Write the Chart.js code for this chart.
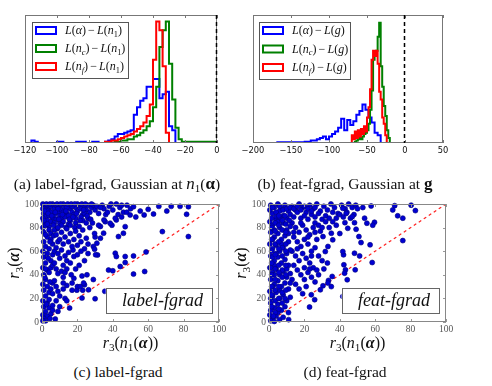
<!DOCTYPE html>
<html>
<head>
<meta charset="utf-8">
<script src="https://cdn.jsdelivr.net/npm/chart.js@4.4.1/dist/chart.umd.min.js"></script>
<style>
  body { margin: 0; background: #fff; }
  #fig { position: relative; width: 492px; height: 386px; overflow: hidden; font-family: "Liberation Serif", serif; color: #111; }
  canvas { position: absolute; }
  .cap { position: absolute; white-space: nowrap; font-size: 15.5px; transform: translate(-50%, -50%); }
  .cap i, .cap b.m { font-size: 17px; }
  .cap sub { font-size: 11px; vertical-align: -3px; line-height: 0; }
</style>
</head>
<body>
<div id="fig">
  <canvas id="histA" width="230" height="165" style="left:0;top:0"></canvas>
  <canvas id="histB" width="222" height="165" style="left:236px;top:0"></canvas>
  <canvas id="scatC" width="232" height="170" style="left:0;top:190px"></canvas>
  <canvas id="scatD" width="232" height="170" style="left:227px;top:190px"></canvas>
  <div class="cap" style="left:117px;top:184px">(a) label-fgrad, Gaussian at <i>n</i><sub>1</sub>(<b class="m">α</b>)</div>
  <div class="cap" style="left:345px;top:184px">(b) feat-fgrad, Gaussian at <b class="m">g</b></div>
  <div class="cap" style="left:118px;top:372px">(c) label-fgrad</div>
  <div class="cap" style="left:345px;top:372px">(d) feat-fgrad</div>
</div>
<script>
// ---- histogram (a): bin edges and counts (relative height, 100 = top of axes)
const edgesA = [-120,-118,-116,-114,-112,-110,-108,-106,-104,-102,-100,-98,-96,-94,-92,-90,-88,-86,-84,-82,
  -80,-78,-76,-74,-72,-70,-68,-66,-64,-62,-60,-58,-56,-54,-52,-50,-48,-46,-44,-42,
  -40,-38,-36,-34,-32,-30,-28,-26,-24,-22,-20,-18,-16,-14,-12,-10,-8,-6,-4,-2,0];
const blueA = [0,0,2,1,0,0,0,0,0,0, 1,1,0,0,0,0,1,1,1,0, 0,1,1,0,0,1,2,3,5,7,
  7,8,9,10,22,28,33,35,44,44, 50,50,35,38,40,13,10,0,0,0, 0,0,0,0,0,0,0,0,0,0];
const greenA = [0,0,0,0,0,0,0,0,0,0, 0,0,0,0,0,0,0,0,0,0, 0,0,0,0,0,0,0,0,1,1,
  2,2,3,3,5,6,8,10,13,17, 28,44,75,88,95,62,34,12,3,1, 1,1,1,1,1,1,1,1,1,1];
const redA = [0,0,0,0,0,0,0,0,0,0, 0,0,0,0,0,0,0,0,0,0, 0,0,0,0,0,1,1,2,2,3,
  4,5,6,7,9,11,13,16,21,30, 65,95,88,60,8,0,0,0,0,0, 0,0,0,0,0,0,0,0,0,0];
const labelsA = ['L(α)−L(n_1)', 'L(n_c)−L(n_1)', 'L(n_f)−L(n_1)'];
const ticksA = [-120, -100, -80, -60, -40, -20, 0];

// ---- histogram (b)
const edgesBlueB = [-168,-164,-160,-156,-152,-148,-144,-140,-136,-132,-128,-124,-120,-116,-112,-108,-104,-100,
  -96,-92,-88,-84,-80,-76,-72,-68,-64,-60,-56,-52,-48,-44,-40,-36,-32];
const blueB = [0.5,0.5,0.5,0.5,0.5,0.5,0.5,0.5,0.5,1, 1,2,2,3,4,5,3,5,7,9,
  12,19,10,18,14,17,22,25,30,26, 20,16,8,6];
const edgesB = [-74,-72,-70,-68,-66,-64,-62,-60,-58,-56,-54,-52,-50,-48,-46,-44,-42,-40,-38,-36,
  -34,-32,-30,-28,-26,-24,-22,-20];
const greenB = [0,0,0,0,1,2,3,4,3,5, 7,8,10,15,26,41,65,70,72,83, 94,60,44,29,21,10,4];
const redB = [0,0,6,3,9,4,10,5,11,7, 13,9,20,28,42,65,72,68,72,62, 40,34,20,15,6,0,0];
const labelsB = ['L(α)−L(g)', 'L(n_c)−L(g)', 'L(n_f)−L(g)'];
const ticksB = [-200, -150, -100, -50, 0, 50];

// ---- scatter (c): [r3(n1(alpha)), r3(alpha)]
const scatterC = [
  [1,99],[2,97],[3,99],[4,95],[5,98],[6,100],[7,96],[8,99],[9,93],[10,98],[11,95],[12,100],[13,97],[14,92],
  [15,99],[16,96],[17,93],[18,99],[19,97],[20,94],[21,99],[22,96],[23,91],[24,98],[25,95],[26,99],[27,93],[28,97],
  [1,92],[2,89],[3,94],[4,90],[5,93],[6,88],[7,91],[8,87],[9,96],[10,90],[11,88],[12,93],[13,89],[14,97],
  [15,90],[16,86],[17,98],[18,91],[19,88],[20,100],[22,89],[24,92],[26,88],
  [0.5,96],[0.5,88],[3,86],[5,85],[7,84],[10,84],[12,85],[15,83],[19,84],[23,86],[29,99],[30,95],[31,98],
  [32,92],[34,99],[35,96],[36,91],[38,98],[40,95],[42,100],[44,97],[46,93],
  [0.5,100],[2.5,100],[4.5,100],[8.5,100],[10.5,100],[14.5,100],[16.5,100],[18.5,100],[22.5,100],[24.5,100],
  [28,100],[1.5,94],[3.5,92],[5.5,90],[7.5,93],[9.5,87],[11.5,91],[13.5,94],[15.5,87],[17.5,89],[19.5,92],
  [21.5,86],[23.5,95],[25.5,90],[27.5,87],[1.5,84],[4,81],[6.5,82],[8.5,79],[11,82],[13.5,80],[16,82],
  [18.5,80],[21,81],[25,84],[28.5,84],[37,93],[39,100],[43,91],[33,97],[45,99],
  [48,99],[50,96],[53,89],[55.5,94],[57.7,90.7],[60,95.5],[63,91.5],[66,98],[70.5,94],[73,98],[78,98],
  [82.7,97.7],[81.7,91.3],[68,76.6],[82.7,72.4],[45,89],[47.9,93],[49.8,90.7],[51.7,97.7],[47,80.8],
  [46,75.2],[43.2,72.4],[42,86.5],[39.5,82],[35.7,85],[38.5,83.7],[41.4,88],[33,81],[35,86.5],[32,82],
  [34.8,75.3],[30,72],[29,64],[31.4,56.8],[41.4,58.3],[44.2,47],[47,55.5],[37.6,44],[58.8,59.4],[58,42.8],
  [51.7,56],[51.7,40.6],[47,50.4],[42,55.5],[40,43.4],[35.5,26],[29.7,75],[33,71],[31,66.8],[30.3,57],
  [29.7,61.7],[29,36],[30,19.7],[22.6,20.3],[23,27],[24,31.5],[22.6,39],[25.4,40],[19.7,27],[17,33],
  [16.5,40],[15.6,11.8],[18,55.5],[17.5,61],[7.5,2.5],
  [0.5,80],[1,76],[2,82],[3,72],[1,68],[4,78],[2,64],[5,70],[0.5,60],[3,58],[1,55],[4,62],[2,50],[5,52],
  [0.5,46],[3,44],[1,40],[4,42],[2,36],[0.5,32],[3,30],[1,27],[4,25],[2,22],[5,28],[0.5,18],[3,16],[1,13],
  [4,12],[2,9],[0.5,6],[3,5],[1,3],[2,1],[0.5,1],[5,7],[6,10],[4,19],[6,33],[5,46],[6,57],[6,66],[5,75],
  [2,45],[1,86],[3,83],[2,74],[4.5,68],[6.5,73],[9,68],[7,60],[3.5,54],[6,48],[1.5,38],[4.5,34],[6,24],
  [2.5,15],[4.5,3],[6,14],
  [7,78],[8,74],[9,80],[10,70],[11,76],[12,66],[13,72],[14,79],[15,68],[16,75],[17,64],[18,70],[19,77],
  [20,65],[21,73],[22,68],[23,78],[24,62],[25,71],[26,66],[27,80],[8,63],[9,58],[10,54],[11,61],[12,48],
  [13,56],[14,52],[15,59],[16,50],[20,57],[22,60],[24,52],[26,58],[7,50],[8,45],[9,41],[11,43],[12,38],
  [13,42],[19,45],[21,48],[14,45],
  [7,35],[8,30],[9,26],[10,22],[8,18],[10,13],[9,9],[12,28],[13,20],[14,18],[14,31],[17,27],[18,37],
  [20,30],[21.6,30],[23.5,33],[26.3,27.3],[12,33]
];

// ---- scatter (d)
const scatterD = [
  [1,99],[3,97],[5,100],[7,96],[9,99],[11,94],[13,98],[15,95],[17,100],[19,97],[21,93],[23,99],[25,96],
  [27,100],[29,94],[31,98],[33,95],[35,100],[37,97],[39,92],[41,99],[43,96],[45,100],[47,97],[49,99],
  [2,92],[4,89],[6,94],[8,90],[10,88],[12,91],[14,89],[16,93],[18,88],[20,90],[22,87],[24,91],[26,89],
  [28,92],[30,87],[32,90],[34,88],[36,93],[38,88],[40,91],[42,89],[44,93],[46,88],[48,91],[50,96],
  [43.6,92],[41.7,96.3],[47,89.3],[48.3,84.2],[49.2,78.6],[42.9,84.2],[44.5,79.4],[36,85],[35.2,75.2],
  [36,69.6],[30.5,72.4],[33.3,64],[31.8,59.7],
  [80.3,99],[71,98.6],[75.6,88],[72.7,90],[82.7,94.4],[75.6,69],[69.9,95],[59.6,84.5],[58.6,82],[55.3,83.7],
  [57.1,65.4],[58.3,50.4],[52,67.3],[50.8,72.4],[51.2,56],[48.3,58.3],[48.7,44.2],[44.2,35.8],[42.3,48.5],
  [43.2,44.2],[42.7,41.4],[42.1,56.9],[41.7,59.7],[41.7,21.7],[35.7,38.6],[35.2,30],[33.6,35.2],[33.3,33],
  [30.5,30.7],[29,27.3],[23.9,23.1],[22.9,12.7],[25.8,18.9],[11.1,2],[57.7,98.3],[53,97],[54,88],
  [13,84],[15,80],[17,76],[19,82],[21,78],[23,74],[25,80],[27,70],[29,77],[14,72],[16,68],[18,64],[20,70],
  [22,66],[24,60],[26,63],[28,56],[30,52],[13,60],[15,56],[17,52],[19,58],[21,54],[23,50],[25,46],[27,44],
  [14,48],[16,44],[18,40],[20,36],[22,42],[24,38],[26,34],[28,40],[13,36],[15,32],[17,28],[19,24],[21,30],
  [23,45],[31,45],[33,50],[32,85],[34,80],[38,82],[40,75],[26,84],[28,82],
  [14,76],[18,84],[22,72],[26,76],[30,80],[16,62],[20,46],[24,56],
  [0.5,85],[2,82],[4,86],[6,80],[8,84],[10,78],[12,81],[1,76],[3,72],[5,75],[7,70],[9,73],[11,68],[0.5,66],
  [2,62],[4,65],[6,60],[8,63],[10,58],[12,61],[1,56],[3,52],[5,55],[7,50],[9,53],[11,48],[0.5,46],[2,42],
  [4,45],[6,40],[8,43],[10,38],[12,41],[1,36],[3,32],[5,35],[7,30],[9,33],[11,28],[0.5,26],[2,22],[4,25],
  [6,20],[8,23],[10,18],[12,21],[1,16],[3,12],[5,15],[7,10],[9,13],[11,8],[0.5,6],[2,3],[4,5],[6,2],[8,4],
  [1,1],[3,0.5],[5,8],[1,10],[2,30],[3,48],[4,58],[2,70],[3,78],[6,88],[9,90],[7,66],[10,45],[6,27],[9,20],
  [1,46],[2,55],[5,85],[11,75],[12,33],[3,40],[1,20],
  [0.5,95],[2,97],[4,93],[6,98],[8,95],[10,96],[12,97],[14,96],[16,98],[18,95],[20,98],[22,96],[24,94],[26,97],
  [1.5,88],[3.5,84],[5.5,90],[7.5,86],[9.5,83],[11.5,86],[1.5,80],[3.5,77],[5.5,82],[7.5,78],[9.5,76],
  [1.5,70],[3.5,66],[5.5,68],[7.5,63],[9.5,66],[1.5,60],[3.5,57],[5.5,62],[7.5,56],[9.5,60],[1.5,50],
  [3.5,45],[5.5,48],[7.5,44],[9.5,48],[1.5,40],[3.5,36],[5.5,42],[7.5,38],[9.5,40],[1.5,30],[3.5,27],
  [5.5,30],[7.5,25],[9.5,27],[1.5,23],[3.5,18],[5.5,20],[7.5,16],[1.5,13],[3.5,8],[5.5,11],[2.5,5]
];
const diagonal = [[0, 0], [100, 100]];
const ticksScatter = [0, 20, 40, 60, 80, 100];

const SERIF = '"Liberation Serif", "Times New Roman", serif';

// draws a small math string: '_x' = subscript x, '*' toggles bold
function drawMath(ctx, str, x, y, size, align) {
  const runs = [];
  let bold = false;
  for (let i = 0; i < str.length; i++) {
    let c = str[i], sub = false;
    if (c === '*') { bold = !bold; continue; }
    if (c === '_') { sub = true; c = str[++i]; }
    const letter = /[A-Za-zα-ω]/.test(c);
    const s = sub ? size * 0.7 : size;
    runs.push({ c, sub, pad: c === '−' ? size * 0.18 : 0,
      font: (letter ? 'italic ' : '') + (bold ? 'bold ' : '') + s + 'px ' + SERIF });
  }
  let w = 0;
  runs.forEach(r => { ctx.font = r.font; r.w = ctx.measureText(r.c).width + 2 * r.pad; w += r.w; });
  let cx = align === 'center' ? x - w / 2 : align === 'right' ? x - w : x;
  ctx.textAlign = 'left';
  ctx.textBaseline = 'alphabetic';
  const base = y + size * 0.32;
  runs.forEach(r => {
    ctx.font = r.font;
    ctx.fillText(r.c, cx + r.pad, r.sub ? base + size * 0.22 : base);
    cx += r.w;
  });
}

function histPoints(edges, counts) {
  const pts = [{ x: edges[0], y: 0 }];
  counts.forEach((c, i) => pts.push({ x: edges[i], y: c }));
  pts.push({ x: edges[edges.length - 1], y: 0 });
  return pts;
}

// frame + inside tick marks + extras
const decor = {
  id: 'decor',
  afterDatasetsDraw(chart, args, o) {
    const { ctx, chartArea: a, scales } = chart;
    ctx.save();
    ctx.strokeStyle = o.tickColor;
    ctx.lineWidth = 1;
    scales.x.ticks.forEach(t => {
      const px = Math.round(scales.x.getPixelForValue(t.value)) + 0.5;
      ctx.beginPath();
      ctx.moveTo(px, a.bottom); ctx.lineTo(px, a.bottom - 3);
      ctx.moveTo(px, a.top); ctx.lineTo(px, a.top + 3);
      ctx.stroke();
    });
    if (scales.y.options.display) {
      scales.y.ticks.forEach(t => {
        const py = Math.round(scales.y.getPixelForValue(t.value)) + 0.5;
        ctx.beginPath();
        ctx.moveTo(a.left, py); ctx.lineTo(a.left + 3, py);
        ctx.moveTo(a.right, py); ctx.lineTo(a.right - 3, py);
        ctx.stroke();
      });
    }
    ctx.strokeStyle = o.frameColor;
    ctx.strokeRect(a.left + 0.5, a.top + 0.5, a.right - a.left - 1, a.bottom - a.top - 1);

    if (o.zeroLine) {
      const px = Math.round(scales.x.getPixelForValue(0)) - 0.5;
      ctx.strokeStyle = '#000';
      ctx.lineWidth = 1.5;
      ctx.setLineDash([4, 3]);
      ctx.beginPath(); ctx.moveTo(px, a.top); ctx.lineTo(px, a.bottom); ctx.stroke();
      ctx.setLineDash([]);
    }

    if (o.legend) {
      const L = o.legend;
      const bx = a.left + L.dx, by = a.top + L.dy;
      ctx.fillStyle = '#fff';
      ctx.fillRect(bx, by, L.w, L.h);
      ctx.strokeStyle = '#555';
      ctx.lineWidth = 1;
      ctx.strokeRect(bx + 0.5, by + 0.5, L.w, L.h);
      chart.data.datasets.forEach((ds, i) => {
        const ry = by + L.first + i * L.gap;
        ctx.strokeStyle = ds.borderColor;
        ctx.lineWidth = 2;
        ctx.strokeRect(bx + 4, ry - 3.5, 20, 7);
        ctx.fillStyle = '#111';
        drawMath(ctx, ds.label, bx + L.textX, ry, 12, 'left');
      });
    }

    if (o.tag) {
      const T = o.tag;
      const x0 = scales.x.getPixelForValue(T.x0), x1 = scales.x.getPixelForValue(T.x1);
      const y0 = scales.y.getPixelForValue(T.y1), y1 = scales.y.getPixelForValue(T.y0);
      ctx.fillStyle = '#fff';
      ctx.fillRect(x0, y0, x1 - x0, y1 - y0);
      ctx.strokeStyle = '#666';
      ctx.lineWidth = 1;
      ctx.strokeRect(Math.round(x0) + 0.5, Math.round(y0) + 0.5, Math.round(x1 - x0), Math.round(y1 - y0));
      ctx.fillStyle = '#111';
      ctx.font = 'italic 18px ' + SERIF;
      ctx.textAlign = 'right';
      ctx.textBaseline = 'middle';
      ctx.fillText(T.text, x1 - 9, (y0 + y1) / 2 + 1);
    }

    if (o.titles) {
      ctx.fillStyle = '#111';
      drawMath(ctx, o.titles.x, (a.left + a.right) / 2, a.bottom + 20.5, 16, 'center');
      ctx.save();
      ctx.translate(a.left - 28, (a.top + a.bottom) / 2);
      ctx.rotate(-Math.PI / 2);
      drawMath(ctx, o.titles.y, 0, 0, 16, 'center');
      ctx.restore();
    }
    ctx.restore();
  }
};

function fixed(size, horizontal) {
  return scale => { if (horizontal) scale.height = size; else scale.width = size; };
}

function histChart(id, series, labels, xTicks, pad, legend) {
  const colors = ['#0000ff', '#008000', '#ff0000'];
  return new Chart(document.getElementById(id), {
    type: 'line',
    data: {
      datasets: series.map((s, i) => ({
        label: labels[i],
        data: histPoints(s[0], s[1]),
        borderColor: colors[i],
        borderWidth: 2,
        stepped: 'before',
        pointRadius: 0,
        fill: false,
        order: 3 - i
      }))
    },
    options: {
      responsive: false,
      animation: false,
      devicePixelRatio: 1,
      layout: { padding: pad },
      plugins: {
        legend: { display: false },
        tooltip: { enabled: false },
        decor: { frameColor: '#777', tickColor: '#777', zeroLine: true, legend }
      },
      scales: {
        x: {
          type: 'linear',
          min: xTicks[0], max: xTicks[xTicks.length - 1],
          afterFit: fixed(22, true),
          afterBuildTicks: s => { s.ticks = xTicks.map(v => ({ value: v })); },
          grid: { display: false, drawTicks: false },
          border: { display: false },
          ticks: {
            color: '#111', padding: 3,
            font: { family: '"DejaVu Sans", sans-serif', size: 8.3 },
            callback: v => String(v).replace('-', '−')
          }
        },
        y: { display: false, min: 0, max: 100 }
      }
    },
    plugins: [decor]
  });
}

function scatterChart(id, pts, tag) {
  return new Chart(document.getElementById(id), {
    type: 'scatter',
    data: {
      datasets: [{
        data: pts.map(p => ({ x: p[0], y: p[1] })),
        backgroundColor: '#0000d2',
        borderColor: '#00007a',
        borderWidth: 0.6,
        pointRadius: 2.5,
        clip: 4,
        order: 0
      }, {
        type: 'line',
        data: diagonal.map(p => ({ x: p[0], y: p[1] })),
        borderColor: '#ff2020',
        borderWidth: 1.2,
        borderDash: [3, 3],
        pointRadius: 0,
        order: 1
      }]
    },
    options: {
      responsive: false,
      animation: false,
      devicePixelRatio: 1,
      layout: { padding: { left: 0, top: 14, right: 13, bottom: 0 } },
      plugins: {
        legend: { display: false },
        tooltip: { enabled: false },
        decor: {
          frameColor: '#888', tickColor: '#999', tag,
          titles: { x: 'r_3(n_1(*α*))', y: 'r_3(*α*)' }
        }
      },
      scales: {
        x: {
          type: 'linear', min: 0, max: 100,
          afterFit: fixed(38, true),
          afterBuildTicks: s => { s.ticks = ticksScatter.map(v => ({ value: v })); },
          grid: { display: false, drawTicks: false },
          border: { display: false },
          ticks: { color: '#555', padding: 2, font: { family: SERIF, size: 9.5 } }
        },
        y: {
          type: 'linear', min: 0, max: 100,
          afterFit: fixed(42, false),
          afterBuildTicks: s => { s.ticks = ticksScatter.map(v => ({ value: v })); },
          grid: { display: false, drawTicks: false },
          border: { display: false },
          ticks: { color: '#555', padding: 3, font: { family: SERIF, size: 9.5 } }
        }
      }
    },
    plugins: [decor]
  });
}

histChart('histA', [[edgesA, blueA], [edgesA, greenA], [edgesA, redA]], labelsA, ticksA,
  { left: 25, top: 15, right: 13, bottom: 0 },
  { dx: 7, dy: 7, w: 96, h: 56, first: 8.5, gap: 18, textX: 33 });
histChart('histB', [[edgesBlueB, blueB], [edgesB, greenB], [edgesB, redB]], labelsB, ticksB,
  { left: 17, top: 15, right: 15, bottom: 0 },
  { dx: 6, dy: 7, w: 91, h: 57, first: 8.5, gap: 18.5, textX: 33 });
scatterChart('scatC', scatterC, { x0: 36, x1: 96, y0: 7.6, y1: 29, text: 'label-fgrad' });
scatterChart('scatD', scatterD, { x0: 41, x1: 96, y0: 7.6, y1: 29, text: 'feat-fgrad' });
</script>
</body>
</html>
